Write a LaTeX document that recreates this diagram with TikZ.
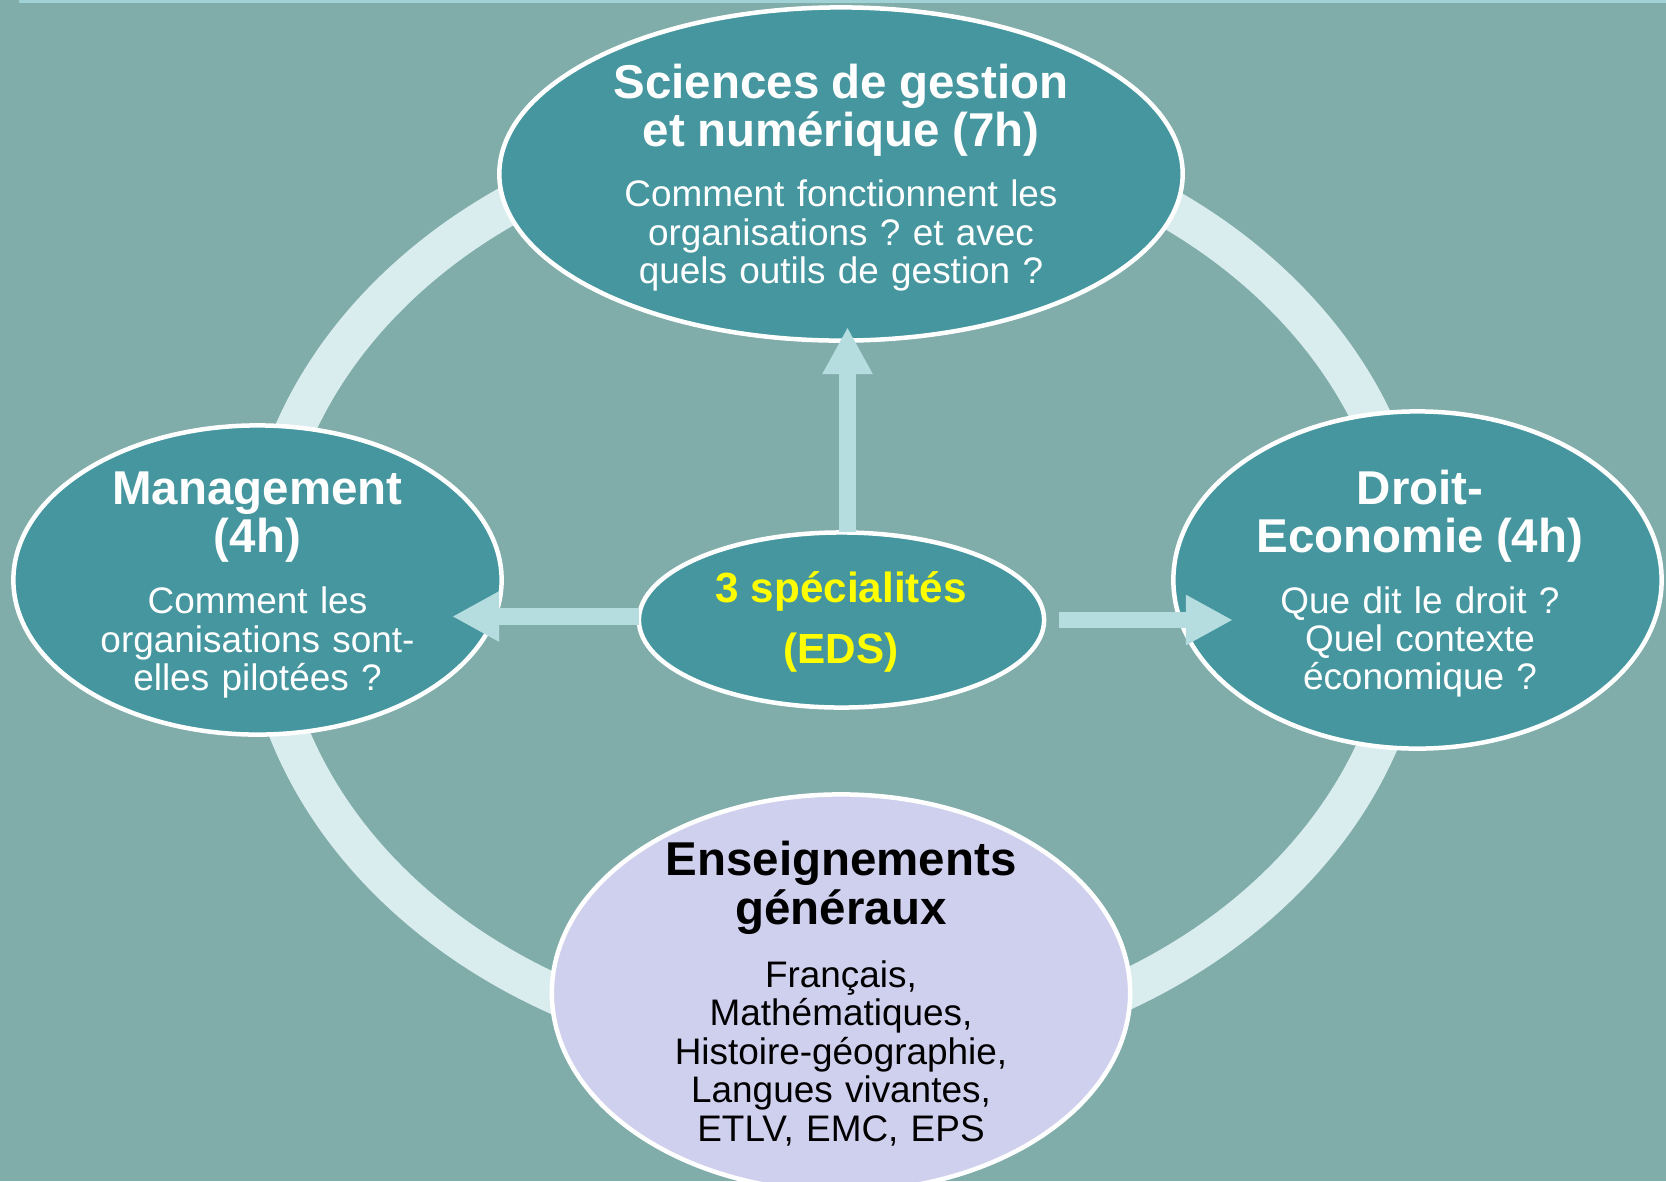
\documentclass[tikz,border=0pt]{standalone}
\usepackage{fontspec}
\setmainfont{Liberation Sans}
\usetikzlibrary{arrows.meta,shapes.geometric}
\setlength{\parindent}{0pt}
\frenchspacing
\definecolor{bgcol}{HTML}{80ACA9}
\definecolor{barcol}{HTML}{A0D2D6}
\definecolor{ringcol}{HTML}{DAEDEE}
\definecolor{tealcol}{HTML}{45969F}
\definecolor{purpcol}{HTML}{CFCFEE}
\definecolor{arrcol}{HTML}{B5DCDF}
\definecolor{edsyellow}{HTML}{FFFF00}
\newcommand\ttlfont{\fontsize{13.5pt}{13.83pt}\selectfont\bfseries}
\newcommand\bodyfont{\fontsize{10.5pt}{10.93pt}\selectfont}
\newcommand\edsfont{\fontsize{12pt}{17.5pt}\selectfont\bfseries}
\begin{document}
\begin{tikzpicture}[x=0.01cm,y=-0.01cm,
  tealell/.style={ellipse, draw=white, line width=0.045cm, fill=tealcol, inner sep=0pt, outer sep=0pt},
  purpell/.style={ellipse, draw=white, line width=0.045cm, fill=purpcol, inner sep=0pt, outer sep=0pt},
  txt/.style={text width=6cm, align=center, inner sep=0pt, anchor=north, font=\bodyfont},
  arr/.style={color=arrcol, line width=0.165cm, -{Triangle[length=0.47cm,width=0.47cm]}}]
\fill[bgcol] (0,0) rectangle (1666,1181);
\useasboundingbox (0,0) rectangle (1666,1181);
\fill[barcol] (19,0) rectangle (1666,3);
\coordinate (ringc) at (836,588);
\draw[ringcol, line width=0.395cm] (ringc) ellipse [x radius=5.75cm, y radius=4.65cm];
\node[tealell, minimum width=6.83cm, minimum height=3.33cm] (sci) at (841,174) {};
\node[tealell, minimum width=4.88cm, minimum height=3.09cm] (mgmt) at (257.5,580) {};
\node[tealell, minimum width=4.88cm, minimum height=3.37cm] (droit) at (1417.5,580) {};
\node[tealell, minimum width=4.05cm, minimum height=1.75cm] (eds) at (841.5,620) {};
\node[purpell, minimum width=5.78cm, minimum height=3.97cm] (ens) at (841,993) {};
\coordinate (lst) at ([yshift=0.035cm]eds.west);
\draw[arr, shorten >=-0.495cm] (lst) -- (lst -| mgmt.east);
\draw[arr, shorten <=0.145cm, shorten >=-0.595cm] (eds.east) -- (eds.east -| droit.west);
\coordinate (ust) at ([xshift=0.06cm]eds.north);
\draw[arr, shorten >=-0.135cm] (ust) -- (ust |- sci.south);
\node[txt, text=white] (sciT) at (841,55.1) {{\ttlfont\rule{0pt}{12pt}Sciences de gestion\\et numérique (7h)\par}\vspace{6.2pt}Comment fonctionnent les\\organisations ? et avec\\quels outils de gestion ?\par};
\node[txt, text=white] (mgmtT) at (257.5,461.3) {{\ttlfont\rule{0pt}{12pt}Management\\(4h)\par}\vspace{6.4pt}Comment les\\organisations sont-\\elles pilotées ?\par};
\node[txt, text=white] (droitT) at (1420,461.3) {{\ttlfont\rule{0pt}{12pt}Droit-\\Economie (4h)\par}\vspace{6.2pt}Que dit le droit ?\\Quel contexte\\économique ?\par};
\node[txt, text=edsyellow] (edsT) at (841,559.5) {\edsfont\rule{0pt}{12pt}3 spécialités\\(EDS)\par};
\node[txt, text=black] (ensT) at (841,832.8) {{\ttlfont\rule{0pt}{12pt}Enseignements\\généraux\par}\vspace{7pt}Français,\\Mathématiques,\\Histoire-géographie,\\Langues vivantes,\\ETLV, EMC, EPS\par};
\end{tikzpicture}
\end{document}
